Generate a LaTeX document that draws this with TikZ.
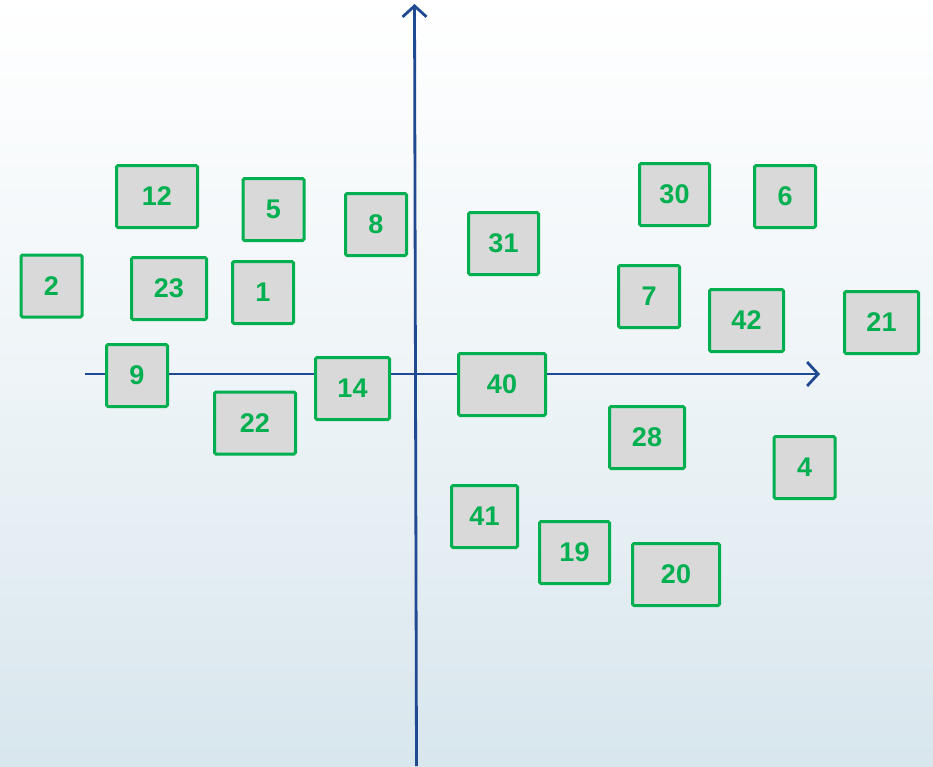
\documentclass[tikz,border=0pt]{standalone}
\usepackage{fontspec}
\setmainfont{Liberation Sans}
\usepackage{xcolor}
\usetikzlibrary{arrows.meta,positioning}
\definecolor{tilegreen}{RGB}{0,176,80}
\definecolor{tilegray}{RGB}{217,217,217}
\definecolor{axisblue}{RGB}{31,73,145}
\definecolor{bgblue}{RGB}{216,230,237}
\begin{document}
\begin{tikzpicture}[
  x=1pt, y=-1pt,
  tile/.style={rectangle, draw=tilegreen, fill=tilegray, line width=3pt,
    rounded corners=1.5pt, minimum height=62pt, minimum width=61pt,
    inner sep=0pt, text=tilegreen, font=\fontsize{27}{30}\selectfont\bfseries},
  axis/.style={draw=axisblue, line width=2.8pt,
    -{Straight Barb[length=11pt,width=24pt,line width=2.8pt]}}
]
\useasboundingbox (0,0) rectangle (933,766);
\shade[top color=white, bottom color=bgblue, middle color=white!55!bgblue]
  (0,0) rectangle (933,766);
% axes
\coordinate (xfrom) at (85,374);
\coordinate (xto) at (820,374);
\coordinate (yfrom) at (416.5,766);
\coordinate (yto) at (414.5,4);
\draw[axis] (xfrom) -- (xto);
\draw[axis] (yfrom) -- (yto);
% tiles
\node[tile, minimum width=81pt] (t12) at (157,196.5) {12};
\node[tile] (t5) at (273.5,209.5) {5};
\node[tile] (t8) at (376,224.5) {8};
\node[tile, minimum width=70pt] (t31) at (503.5,243.5) {31};
\node[tile, minimum width=70pt] (t30) at (674.5,194.5) {30};
\node[tile] (t6) at (785,196.5) {6};
\node[tile] (t2) at (51.5,286) {2};
\node[tile, minimum width=75pt] (t23) at (169,288.5) {23};
\node[tile] (t1) at (263,292.5) {1};
\node[tile] (t7) at (649,296.5) {7};
\node[tile, minimum width=74pt] (t42) at (746.5,320.5) {42};
\node[tile, minimum width=74pt] (t21) at (881.5,322.5) {21};
\node[tile] (t9) at (137,375.5) {9};
\node[tile, minimum width=74pt] (t14) at (352.5,388.5) {14};
\node[tile, minimum width=87pt] (t40) at (502,384.5) {40};
\node[tile, minimum width=81pt] (t22) at (255,423) {22};
\node[tile, minimum width=75pt] (t28) at (647,437.5) {28};
\node[tile] (t4) at (804.5,467.5) {4};
\node[tile, minimum width=66pt] (t41) at (484.5,516.5) {41};
\node[tile, minimum width=70pt] (t19) at (574.5,552.5) {19};
\node[tile, minimum width=87pt] (t20) at (676,574.5) {20};
\end{tikzpicture}
\end{document}
